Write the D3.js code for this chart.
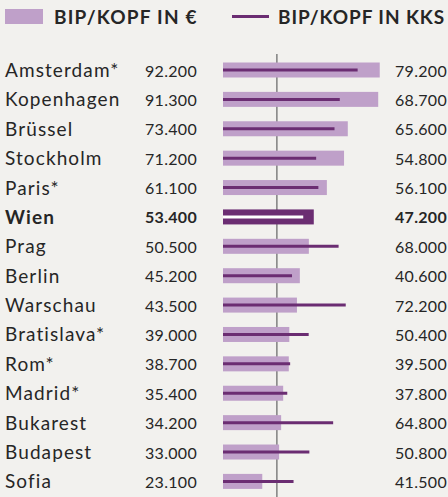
<!DOCTYPE html>
<html><head><meta charset="utf-8">
<script src="https://cdn.jsdelivr.net/npm/d3@7"></script>
<style>
html,body{margin:0;padding:0;background:#f2f1ee;}
svg{display:block;}
text{font-family:Lato, "Open Sans", sans-serif;fill:#262626;}
</style></head>
<body><svg id="c" width="448" height="497"></svg>
<script>
const cities = ["Amsterdam*","Kopenhagen","Brüssel","Stockholm","Paris*","Wien","Prag","Berlin","Warschau","Bratislava*","Rom*","Madrid*","Bukarest","Budapest","Sofia"];
const gdpEuro = [92200,91300,73400,71200,61100,53400,50500,45200,43500,39000,38700,35400,34200,33000,23100];
const gdpPPS = [79200,68700,65600,54800,56100,47200,68000,40600,72200,50400,39500,37800,64800,50800,41500];
const highlight = "Wien";
const referenceValue = 31700;
const legendLabels = ["BIP/KOPF IN €","BIP/KOPF IN KKS"];

const fmt = v => d3.format(",")(v).replace(/,/g, ".");
const barColor = "#bfa0c9", lineColor = "#6b2d72", hiColor = "#6b2d72";

const svg = d3.select("#c");
const x = d3.scaleLinear().domain([0, 100000]).range([223, 393]);
const y = d3.scalePoint().domain(cities).range([70, 481.4]);
const barH = 15;

// legend
svg.append("rect").attr("x",5).attr("y",9).attr("width",38).attr("height",15).attr("fill",barColor);
svg.append("text").attr("x",54).attr("y",24).attr("font-size",19).attr("font-weight",700)
  .attr("letter-spacing",1.2).text(legendLabels[0]);
svg.append("line").attr("x1",232).attr("x2",269).attr("y1",16.5).attr("y2",16.5).attr("stroke",lineColor).attr("stroke-width",3);
svg.append("text").attr("x",278).attr("y",24).attr("font-size",19).attr("font-weight",700)
  .attr("letter-spacing",0.9).text(legendLabels[1]);

// reference line
svg.append("line").attr("x1",x(referenceValue)).attr("x2",x(referenceValue)).attr("y1",54).attr("y2",497)
  .attr("stroke","#6e6e6e").attr("stroke-width",1.3);

const data = cities.map((c,i)=>({c, e:gdpEuro[i], p:gdpPPS[i]}));
const g = svg.selectAll("g.row").data(data).join("g").attr("class","row");

g.append("rect").attr("x",x(0)).attr("y",d=>y(d.c)-barH/2).attr("width",d=>x(d.e)-x(0)).attr("height",barH)
  .attr("fill",d=>d.c===highlight?hiColor:barColor);
g.append("line").attr("x1",x(0)).attr("x2",d=>x(d.p)).attr("y1",d=>y(d.c)).attr("y2",d=>y(d.c))
  .attr("stroke",d=>d.c===highlight?"#ffffff":lineColor).attr("stroke-width",3);

g.append("text").attr("x",5).attr("y",d=>y(d.c)+7).attr("font-size",19).attr("letter-spacing",1.1)
  .attr("font-weight",d=>d.c===highlight?700:400).text(d=>d.c);
g.append("text").attr("x",197).attr("y",d=>y(d.c)+6.5).attr("font-size",16).attr("text-anchor","end")
  .attr("letter-spacing",0.3)
  .attr("font-weight",d=>d.c===highlight?700:400).text(d=>fmt(d.e));
g.append("text").attr("x",447).attr("y",d=>y(d.c)+6.5).attr("font-size",16).attr("text-anchor","end")
  .attr("letter-spacing",0.3)
  .attr("font-weight",d=>d.c===highlight?700:400).text(d=>fmt(d.p));
</script></body></html>
